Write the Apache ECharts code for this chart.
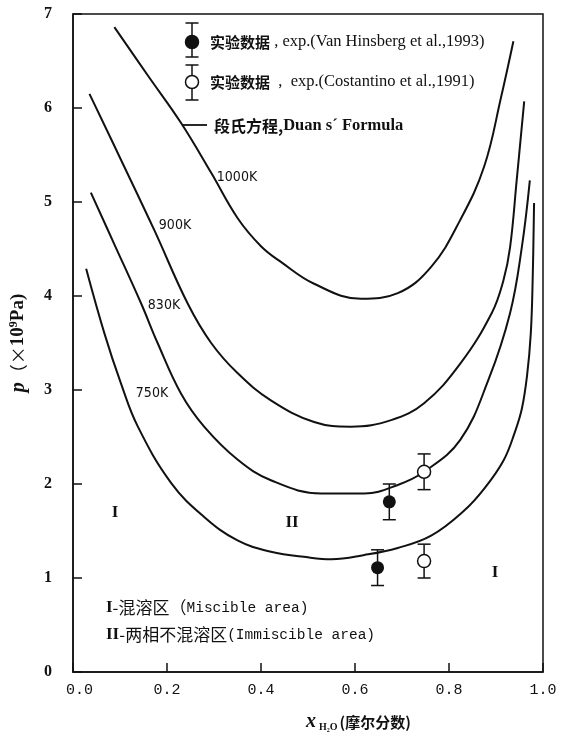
<!DOCTYPE html>
<html>
<head>
<meta charset="utf-8">
<script src="https://cdn.jsdelivr.net/npm/echarts@6/dist/echarts.min.js"></script>
<style>
html,body{margin:0;padding:0;background:#fff;}
#chart{width:567px;height:734px;}
</style>
</head>
<body>
<div id="chart"></div>
<script>
// ---- data ----
const xTickLabels = ['0.0','0.2','0.4','0.6','0.8','1.0'];
const yTickLabels = ['0','1','2','3','4','5','6','7'];

const curve1000K = [[0.088,6.86],[0.16,6.34],[0.23,5.84],[0.294,5.31],[0.35,4.83],[0.40,4.53],[0.443,4.36],[0.513,4.13],[0.613,3.97],[0.691,4.03],[0.762,4.31],[0.824,4.81],[0.875,5.38],[0.911,6.12],[0.937,6.71]];
const curve900K = [[0.035,6.15],[0.102,5.45],[0.173,4.70],[0.244,3.92],[0.294,3.50],[0.35,3.18],[0.421,2.89],[0.513,2.66],[0.591,2.61],[0.677,2.68],[0.747,2.86],[0.824,3.28],[0.891,3.82],[0.916,4.17],[0.930,4.52],[0.944,5.23],[0.960,6.07]];
const curve830K = [[0.038,5.10],[0.088,4.55],[0.145,3.92],[0.18,3.50],[0.23,2.96],[0.279,2.61],[0.35,2.26],[0.421,2.04],[0.528,1.90],[0.62,1.90],[0.691,1.99],[0.747,2.13],[0.824,2.47],[0.884,3.11],[0.930,3.82],[0.955,4.52],[0.972,5.23]];
const curve750K = [[0.028,4.29],[0.067,3.60],[0.102,3.07],[0.138,2.61],[0.209,2.01],[0.279,1.65],[0.35,1.40],[0.421,1.28],[0.50,1.22],[0.55,1.20],[0.62,1.245],[0.691,1.32],[0.762,1.45],[0.833,1.72],[0.875,1.95],[0.916,2.25],[0.940,2.55],[0.955,2.80],[0.966,3.15],[0.974,3.60],[0.978,4.17],[0.981,4.99]];

// Van Hinsberg et al., 1993 (filled)
const vhX = [0.673, 0.648];
const vhP = [1.81, 1.11];
const vhErr = [0.19, 0.19];
// Costantino et al., 1991 (open)
const coX = [0.747, 0.747];
const coP = [2.13, 1.18];
const coErr = [0.19, 0.18];

// ---- build ----
const vhPts = vhX.map((x,i)=>[x, vhP[i]]);
const coPts = coX.map((x,i)=>[x, coP[i]]);
const errData = vhX.map((x,i)=>[x, vhP[i]-vhErr[i], vhP[i]+vhErr[i]])
  .concat(coX.map((x,i)=>[x, coP[i]-coErr[i], coP[i]+coErr[i]]));

const BLACK = '#111';
const lineStyle = {color: BLACK, width: 2};
function curveSeries(data){
  return {type:'line', data, smooth:0.4, showSymbol:false, symbol:'none',
    lineStyle, silent:true, z:2};
}

const chart = echarts.init(document.getElementById('chart'), null, {renderer:'canvas'});
const serif = "'Liberation Serif',serif";
const mono = "'Liberation Mono',monospace";
const condSans = "'Liberation Sans Narrow','DejaVu Sans Condensed','Liberation Sans',sans-serif";
const cjk = "'Noto Sans CJK SC',sans-serif";

function errGlyph(cx, cy, top, bot, filled){
  const w = 6.5;
  return {type:'group', children:[
    {type:'line', shape:{x1:cx,y1:top,x2:cx,y2:bot}, style:{stroke:BLACK,lineWidth:1.5}},
    {type:'line', shape:{x1:cx-w,y1:top,x2:cx+w,y2:top}, style:{stroke:BLACK,lineWidth:1.5}},
    {type:'line', shape:{x1:cx-w,y1:bot,x2:cx+w,y2:bot}, style:{stroke:BLACK,lineWidth:1.5}},
    {type:'circle', shape:{cx:cx,cy:cy,r:6.5}, style:{fill: filled?BLACK:'#fff', stroke:BLACK, lineWidth:1.5}, z:10}
  ]};
}
function txt(x, y, text, font, size, weight, align){
  return {type:'text', x, y, style:{text, font: (weight||'normal')+' '+size+'px '+font, fill:BLACK, textAlign: align||'left', textVerticalAlign:'middle'}};
}

const option = {
  animation:false,
  backgroundColor:'#fff',
  grid:{left:72, right:24, top:14, bottom:62, show:true, borderColor:BLACK, borderWidth:1.5, backgroundColor:'transparent'},
  xAxis:{type:'value', min:0, max:1, interval:0.2,
    axisLine:{show:true, lineStyle:{color:BLACK, width:1.5}},
    axisTick:{show:true, inside:true, length:9, lineStyle:{color:BLACK, width:1.5}},
    splitLine:{show:false},
    axisLabel:{margin:11, color:BLACK, fontFamily:mono, fontSize:15,
      formatter:(v)=>{const i=Math.round(v/0.2); return i===0 ? '{f|'+xTickLabels[i]+'}' : xTickLabels[i];},
      rich:{f:{fontFamily:mono, fontSize:15, color:BLACK, padding:[0,0,0,13]}}}
  },
  yAxis:{type:'value', min:0, max:7, interval:1,
    axisLine:{show:true, lineStyle:{color:BLACK, width:1.5}},
    axisTick:{show:true, inside:true, length:9, lineStyle:{color:BLACK, width:1.5}},
    splitLine:{show:false},
    axisLabel:{margin:21, color:BLACK, fontFamily:serif, fontWeight:'bold', fontSize:16,
      formatter:(v)=>yTickLabels[Math.round(v)]},
    name:'{i|p}{c|（×}{n|10}{s|9}{n|Pa)}', nameLocation:'middle', nameRotate:90, nameGap:44,
    nameTextStyle:{rich:{
      i:{fontFamily:serif, fontStyle:'italic', fontWeight:'bold', fontSize:20, color:BLACK},
      c:{fontFamily:cjk, fontSize:18, color:BLACK},
      n:{fontFamily:serif, fontWeight:'bold', fontSize:19, color:BLACK},
      s:{fontFamily:serif, fontWeight:'bold', fontSize:12, color:BLACK, verticalAlign:'top', padding:[0,0,9,0]}
    }}
  },
  series:[
    curveSeries(curve1000K),
    curveSeries(curve900K),
    curveSeries(curve830K),
    curveSeries(curve750K),
    {type:'custom', data:errData, z:5, silent:true,
      renderItem:(params, api)=>{
        const x = api.value(0);
        const lo = api.coord([x, api.value(1)]);
        const hi = api.coord([x, api.value(2)]);
        const w = 6.5;
        const st = {stroke:BLACK, lineWidth:1.5};
        return {type:'group', children:[
          {type:'line', shape:{x1:lo[0],y1:lo[1],x2:hi[0],y2:hi[1]}, style:st},
          {type:'line', shape:{x1:lo[0]-w,y1:lo[1],x2:lo[0]+w,y2:lo[1]}, style:st},
          {type:'line', shape:{x1:hi[0]-w,y1:hi[1],x2:hi[0]+w,y2:hi[1]}, style:st}
        ]};
      }},
    {type:'scatter', data:vhPts, symbol:'circle', symbolSize:13, itemStyle:{color:BLACK, opacity:1}, z:6, silent:true},
    {type:'scatter', data:coPts, symbol:'circle', symbolSize:13, itemStyle:{color:'#fff', borderColor:BLACK, borderWidth:1.5, opacity:1}, z:6, silent:true}
  ],
  graphic:[
    // legend
    errGlyph(192, 42, 23, 57, true),
    {type:'text', x:210, y:42, style:{text:'{c|实验数据}{e| , exp.(Van Hinsberg et al.,1993)}', textVerticalAlign:'middle',
      rich:{c:{font:'bold 15px '+cjk, fill:BLACK}, e:{font:'16.5px '+serif, fill:BLACK}}}},
    errGlyph(192, 82, 65, 100, false),
    {type:'text', x:210, y:82, style:{text:'{c|实验数据}{e|  ,  exp.(Costantino et al.,1991)}', textVerticalAlign:'middle',
      rich:{c:{font:'bold 15px '+cjk, fill:BLACK}, e:{font:'16.5px '+serif, fill:BLACK}}}},
    {type:'line', shape:{x1:182,y1:125,x2:207,y2:125}, style:{stroke:BLACK, lineWidth:1.8}},
    {type:'text', x:214, y:126, style:{text:'{c|段氏方程,}{e|Duan s´ Formula}', textVerticalAlign:'middle',
      rich:{c:{font:'bold 16px '+cjk, fill:BLACK}, e:{font:'bold 16.5px '+serif, fill:BLACK}}}},
    // curve labels
    txt(237, 177, '1000K', condSans, 14, 'normal', 'center'),
    txt(175, 225, '900K', condSans, 14, 'normal', 'center'),
    txt(164, 305, '830K', condSans, 14, 'normal', 'center'),
    txt(152, 393, '750K', condSans, 14, 'normal', 'center'),
    // region labels
    txt(115, 513, 'I', serif, 17, 'bold', 'center'),
    txt(292, 523, 'II', serif, 17, 'bold', 'center'),
    txt(495, 573, 'I', serif, 17, 'bold', 'center'),
    // notes
    {type:'text', x:106, y:608, style:{text:'{r|I}{c|-混溶区（}{e|Miscible area)}', textVerticalAlign:'middle',
      rich:{r:{font:'bold 17px '+serif, fill:BLACK}, c:{font:'17px '+cjk, fill:BLACK}, e:{font:'14.5px '+mono, fill:BLACK}}}},
    {type:'text', x:106, y:635, style:{text:'{r|II}{c|-两相不混溶区}{e|(Immiscible area)}', textVerticalAlign:'middle',
      rich:{r:{font:'bold 17px '+serif, fill:BLACK}, c:{font:'17px '+cjk, fill:BLACK}, e:{font:'14.5px '+mono, fill:BLACK}}}},
    // x axis title
    {type:'text', x:306, y:722, style:{text:'{x|x}{s|H₂O}{c|(摩尔分数)}', textVerticalAlign:'middle',
      rich:{x:{font:'italic bold 20px '+serif, fill:BLACK},
            s:{font:'bold 10px '+serif, fill:BLACK, verticalAlign:'bottom', padding:[7,2,0,3]},
            c:{font:'bold 15px '+cjk, fill:BLACK}}}}
  ]
};
chart.setOption(option);
</script>
</body>
</html>
